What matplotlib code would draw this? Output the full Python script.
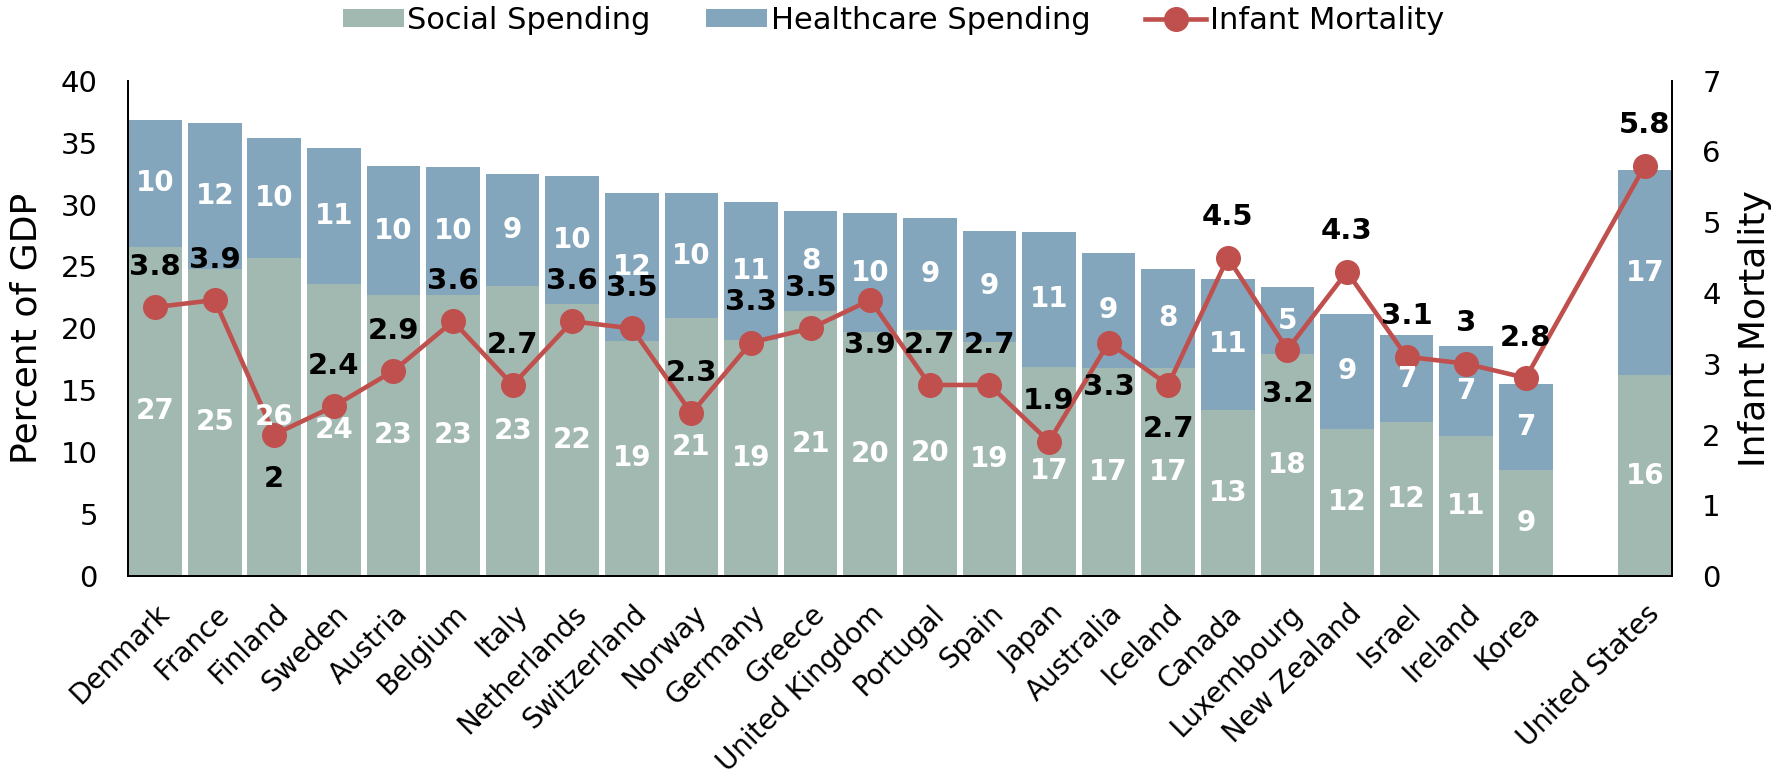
# Social & healthcare spending vs infant mortality

import numpy as np
import matplotlib
matplotlib.use('Agg')
import matplotlib.pyplot as plt

plt.rcParams['font.family'] = ['DejaVu Sans']

# data
countries = ['Denmark', 'France', 'Finland', 'Sweden', 'Austria', 'Belgium', 'Italy',
             'Netherlands', 'Switzerland', 'Norway', 'Germany', 'Greece', 'United Kingdom',
             'Portugal', 'Spain', 'Japan', 'Australia', 'Iceland', 'Canada', 'Luxembourg',
             'New Zealand', 'Israel', 'Ireland', 'Korea', 'United States']
social = [26.6, 24.8, 25.7, 23.6, 22.7, 22.7, 23.4, 22.0, 19.0, 20.8, 19.1, 21.4, 19.7,
          19.9, 18.9, 16.9, 16.8, 16.8, 13.4, 17.9, 11.9, 12.4, 11.3, 8.6, 16.2]
health = [10.2, 11.8, 9.7, 11.0, 10.4, 10.3, 9.1, 10.3, 11.9, 10.1, 11.1, 8.1, 9.6,
          9.0, 9.0, 10.9, 9.3, 8.0, 10.6, 5.4, 9.3, 7.1, 7.3, 6.9, 16.6]
mortality = [3.8, 3.9, 2.0, 2.4, 2.9, 3.6, 2.7, 3.6, 3.5, 2.3, 3.3, 3.5, 3.9,
             2.7, 2.7, 1.9, 3.3, 2.7, 4.5, 3.2, 4.3, 3.1, 3.0, 2.8, 5.8]
label_side = ['up', 'up', 'down', 'up', 'up', 'up', 'up', 'up', 'up', 'up', 'up', 'up', 'down',
              'up', 'up', 'up', 'down', 'down', 'up', 'down', 'up', 'up', 'up', 'up', 'up']

c_social = '#A2B9B1'
c_health = '#84A6BC'
c_line = '#C0504D'

# empty slot between Korea and the United States
x = np.array(list(range(len(countries) - 1)) + [len(countries)])
width = 0.9

fig = plt.figure(figsize=(17.92, 7.82), dpi=100)
ax = fig.add_axes([0.0716, 0.2634, 0.8613, 0.6334])
ax2 = ax.twinx()

ax.bar(x, social, width, color=c_social, label='Social Spending', linewidth=0)
ax.bar(x, health, width, bottom=social, color=c_health, label='Healthcare Spending', linewidth=0)
ax2.plot(x, mortality, color=c_line, lw=3.3, marker='o', markersize=17, label='Infant Mortality',
         zorder=2)

# bar labels (drawn on ax2 so they sit over the line)
for xi, s, h in zip(x, social, health):
    ax2.text(xi, s / 2, f'{s:.0f}', transform=ax.transData, ha='center', va='center',
             color='white', fontsize=20, fontweight='bold', zorder=3)
    ax2.text(xi, s + h / 2, f'{h:.0f}', transform=ax.transData, ha='center', va='center',
             color='white', fontsize=20, fontweight='bold', zorder=3)

for xi, m, side in zip(x, mortality, label_side):
    off = 29 if side == 'up' else -32
    ax2.annotate(f'{m:g}', (xi, m), xytext=(0, off), textcoords='offset points',
                 ha='center', va='center', fontsize=21, fontweight='bold', color='black',
                 zorder=4)

ax.set_xlim(-width / 2, x[-1] + width / 2)
ax.set_ylim(0, 40)
ax2.set_ylim(0, 7)
ax.set_yticks(np.arange(0, 41, 5))
ax2.set_yticks(np.arange(0, 8, 1))
ax.set_xticks(x)
ax.set_xticklabels(countries, rotation=45, ha='right', rotation_mode='anchor', fontsize=20)

ax.tick_params(axis='y', length=0, labelsize=21, pad=22)
ax2.tick_params(axis='y', length=0, labelsize=21, pad=22)
ax.tick_params(axis='x', length=0, pad=17)

ax.set_ylabel('Percent of GDP', fontsize=26, labelpad=12)
ax2.set_ylabel('Infant Mortality', fontsize=26, labelpad=12)

for a in (ax, ax2):
    a.spines['top'].set_visible(False)
    for s in ('left', 'right', 'bottom'):
        a.spines[s].set_linewidth(1.3)

h1, l1 = ax.get_legend_handles_labels()
h2, l2 = ax2.get_legend_handles_labels()
fig.legend(h1 + h2, l1 + l2, loc='center', bbox_to_anchor=(0.4986, 0.9737), ncol=3,
           frameon=False, fontsize=22, handlelength=2.0, handleheight=0.55,
           handletextpad=0.12, columnspacing=1.8)

plt.savefig('out.png', dpi=100)
